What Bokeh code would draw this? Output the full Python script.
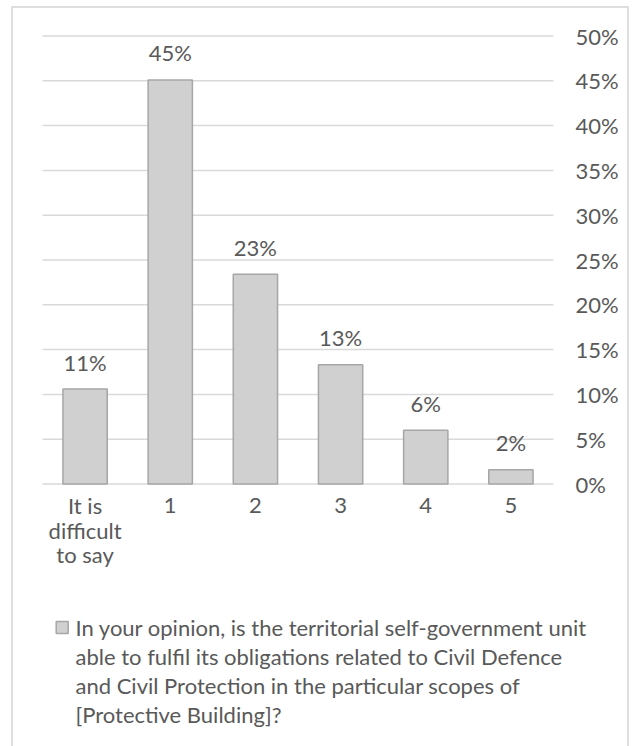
from bokeh.plotting import figure
from bokeh.models import ColumnDataSource, Range1d
from bokeh.core.properties import value
from bokeh.embed import file_html
from bokeh.resources import INLINE

# Survey answers (share of respondents, %)
categories = ["It is\ndifficult\nto say", "1", "2", "3", "4", "5"]
shares = [10.6, 45.1, 23.4, 13.3, 6.0, 1.6]
y_ticks = [0, 5, 10, 15, 20, 25, 30, 35, 40, 45, 50]
question_lines = [
    "In your opinion, is the territorial self-government unit",
    "able to fulfil its obligations related to Civil Defence",
    "and Civil Protection in the particular scopes of",
    "[Protective Building]?",
]

FONT = "Lato"
SIZE = "22px"
TEXT = "#595959"
GRID = "#d9d9d9"
BAR_FILL = "#d0d0d0"
BAR_LINE = "#a6a6a6"

# Card layout in pixels. The plotting frame fills the whole card so that the
# category names, the percentage labels and the legend are all drawn in it.
CARD_W, CARD_H = 618, 760
GRID_LEFT = 29          # from the card's left edge to the first category
GRID_W = 511            # width of the gridded area
ZERO_Y = 475.5          # from the card's top edge to the 0% line
PCT_PX = 8.96           # pixels per percentage point

n = len(categories)
cat_px = GRID_W / n
cat_x = [i + 0.5 for i in range(n)]

source = ColumnDataSource(dict(
    x=cat_x,
    share=shares,
    label=[f"{round(v)}%" for v in shares],
))

p = figure(
    x_range=Range1d(-GRID_LEFT / cat_px, (CARD_W - GRID_LEFT) / cat_px),
    y_range=Range1d(-(CARD_H - ZERO_Y) / PCT_PX, ZERO_Y / PCT_PX),
    width=CARD_W, height=CARD_H,
    min_border_left=0, min_border_right=0,
    min_border_top=0, min_border_bottom=0,
    x_axis_location=None, y_axis_location=None,
    output_backend="svg", toolbar_location=None,
    outline_line_color=None,
    background_fill_color="white", border_fill_color="white",
)
p.grid.visible = False
p.styles = {"margin-left": "11px", "margin-top": "6px",
            "border": "2px solid #dedede"}

# horizontal gridlines across the category area
p.segment(x0=[0] * len(y_ticks), x1=[n] * len(y_ticks),
          y0=y_ticks, y1=y_ticks, line_color=GRID, line_width=1.5)

# percentage scale on the right
p.text(x=[n] * len(y_ticks), y=y_ticks, text=[f"{t}%" for t in y_ticks],
       x_offset=22, text_align="left", text_baseline="middle",
       text_font=value(FONT), text_font_size=SIZE, text_color=TEXT)

bars = p.vbar(x="x", top="share", bottom=0, width=0.52, source=source,
              fill_color=BAR_FILL, line_color=BAR_LINE, line_width=1.5)

# value labels above the bars
p.text(x="x", y="share", text="label", source=source,
       text_align="center", text_baseline="alphabetic", y_offset=-27,
       text_font=value(FONT), text_font_size=SIZE, text_color=TEXT)

# category names under the zero line, one glyph per text line
LINE_STEP = 24.5
name_x, name_off, name_txt = [], [], []
for x, name in zip(cat_x, categories):
    for j, part in enumerate(name.split("\n")):
        name_x.append(x)
        name_off.append(21.5 + j * LINE_STEP)
        name_txt.append(part)
p.text(x=name_x, y=[0] * len(name_x), text=name_txt, y_offset=name_off,
       text_align="center", text_baseline="middle",
       text_font=value(FONT), text_font_size=SIZE, text_color=TEXT)

# legend: swatch and wrapped series name
p.rect(x=[19.7 / cat_px], y=[-143.5 / PCT_PX], width=12, height=12,
       width_units="screen", height_units="screen",
       fill_color=BAR_FILL, line_color=BAR_LINE, line_width=1.5)
LEGEND_STEP = 29
p.text(x=[0] * len(question_lines), y=[0] * len(question_lines),
       text=question_lines, x_offset=33,
       y_offset=[143.5 + i * LEGEND_STEP for i in range(len(question_lines))],
       text_align="left", text_baseline="middle",
       text_font=value(FONT), text_font_size=SIZE, text_color=TEXT)

open("out.html", "w").write(file_html(p, INLINE))
